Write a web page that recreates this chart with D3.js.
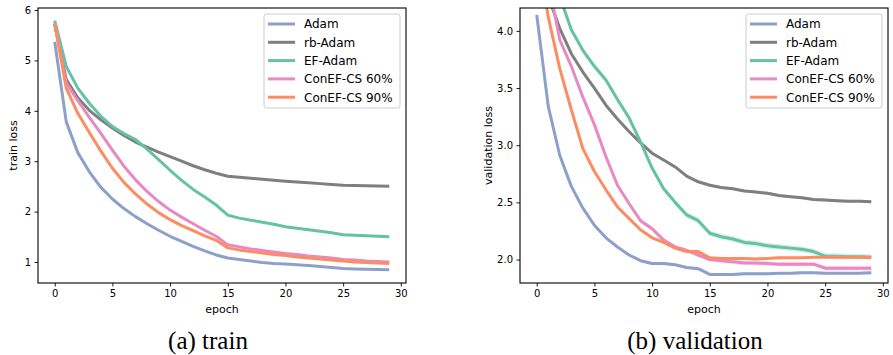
<!DOCTYPE html>
<html>
<head>
<meta charset="utf-8">
<script src="https://cdn.jsdelivr.net/npm/d3@7"></script>
<style>
  body { margin: 0; background: #fff; }
  svg text { font-family: "DejaVu Sans", sans-serif; fill: #000; }
  .caption { font-family: "Liberation Serif", "Times New Roman", serif; font-size: 25px; }
</style>
</head>
<body>
<div id="graphs"></div>
<script>
var epochs = [0, 1, 2, 3, 4, 5, 6, 7, 8, 9, 10, 11, 12, 13, 14, 15, 16, 17, 18, 19, 20, 21, 22, 23, 24, 25, 26, 27, 28, 29];
var seriesNames = ["Adam", "rb-Adam", "EF-Adam", "ConEF-CS 60%", "ConEF-CS 90%"];
var seriesColors = ["#8da0cb", "#7f7f7f", "#66c2a5", "#e78ac3", "#fc8d62"];

// train loss
var trainAdam   = [5.37, 3.78, 3.17, 2.79, 2.48, 2.25, 2.06, 1.90, 1.76, 1.63, 1.51, 1.41, 1.31, 1.22, 1.14, 1.08, 1.05, 1.02, 0.99, 0.97, 0.96, 0.945, 0.93, 0.91, 0.89, 0.87, 0.86, 0.855, 0.85, 0.845];
var trainRb     = [5.72, 4.62, 4.26, 4.01, 3.82, 3.66, 3.51, 3.38, 3.28, 3.18, 3.09, 3.00, 2.91, 2.83, 2.76, 2.70, 2.68, 2.66, 2.64, 2.62, 2.60, 2.585, 2.57, 2.555, 2.54, 2.525, 2.52, 2.515, 2.51, 2.505];
var trainEF     = [5.79, 4.88, 4.45, 4.15, 3.89, 3.69, 3.55, 3.43, 3.24, 3.03, 2.82, 2.62, 2.44, 2.29, 2.13, 1.93, 1.87, 1.83, 1.79, 1.75, 1.70, 1.67, 1.64, 1.61, 1.58, 1.54, 1.53, 1.52, 1.51, 1.50];
var trainCS60   = [5.72, 4.55, 4.20, 3.87, 3.55, 3.22, 2.90, 2.63, 2.40, 2.20, 2.03, 1.89, 1.76, 1.63, 1.51, 1.34, 1.30, 1.26, 1.23, 1.20, 1.17, 1.15, 1.12, 1.10, 1.08, 1.05, 1.04, 1.02, 1.01, 1.00];
var trainCS90   = [5.74, 4.45, 3.95, 3.57, 3.20, 2.86, 2.58, 2.35, 2.15, 1.98, 1.84, 1.72, 1.62, 1.52, 1.43, 1.28, 1.24, 1.21, 1.18, 1.15, 1.13, 1.10, 1.08, 1.06, 1.04, 1.02, 1.00, 0.99, 0.98, 0.97];

// validation loss
var valAdam     = [4.14, 3.34, 2.91, 2.64, 2.45, 2.30, 2.19, 2.11, 2.04, 1.99, 1.965, 1.965, 1.955, 1.93, 1.92, 1.87, 1.87, 1.87, 1.875, 1.875, 1.875, 1.88, 1.88, 1.885, 1.885, 1.88, 1.88, 1.88, 1.88, 1.885];
var valRb       = [5.60, 4.30, 4.02, 3.80, 3.64, 3.50, 3.35, 3.23, 3.12, 3.02, 2.93, 2.87, 2.81, 2.73, 2.68, 2.65, 2.63, 2.62, 2.60, 2.59, 2.58, 2.56, 2.55, 2.54, 2.525, 2.52, 2.515, 2.51, 2.51, 2.505];
var valEF       = [5.70, 4.70, 4.30, 4.01, 3.83, 3.69, 3.57, 3.40, 3.24, 3.03, 2.80, 2.62, 2.50, 2.39, 2.34, 2.23, 2.20, 2.18, 2.15, 2.14, 2.12, 2.11, 2.10, 2.09, 2.07, 2.03, 2.03, 2.025, 2.025, 2.02];
var valCS60     = [5.70, 4.43, 3.92, 3.69, 3.42, 3.18, 2.90, 2.65, 2.49, 2.34, 2.27, 2.17, 2.11, 2.08, 2.04, 2.00, 1.99, 1.98, 1.97, 1.97, 1.965, 1.96, 1.96, 1.96, 1.96, 1.925, 1.925, 1.925, 1.925, 1.925];
var valCS90     = [4.75, 4.12, 3.67, 3.31, 2.97, 2.77, 2.61, 2.46, 2.36, 2.26, 2.19, 2.15, 2.10, 2.07, 2.07, 2.015, 2.01, 2.01, 2.01, 2.005, 2.01, 2.015, 2.015, 2.015, 2.02, 2.02, 2.02, 2.02, 2.02, 2.02];
// half width of the shaded run-to-run band, validation only
var valBand     = [0.012, 0.012, 0.025, 0.02, 0.012];

var trainTicks = [1, 2, 3, 4, 5, 6];
var valTicks   = [2.0, 2.5, 3.0, 3.5, 4.0];
var epochTicks = [0, 5, 10, 15, 20, 25, 30];

var W = 893, H = 355;

var svg = d3.select("#graphs").append("svg")
    .attr("width", W)
    .attr("height", H);

function drawPanel(opt) {
    var left = opt.left, top = 8, width = 368, height = 275;
    var g = svg.append("g")
        .attr("transform", "translate(" + left + "," + top + ")");

    var xScale = d3.scaleLinear().domain([-1.45, 30.45]).range([0, width]);
    var yScale = d3.scaleLinear().domain(opt.yDomain).range([height, 0]);

    g.append("clipPath").attr("id", opt.id + "-clip")
      .append("rect").attr("width", width).attr("height", height);

    var plot = g.append("g").attr("clip-path", "url(#" + opt.id + "-clip)");

    if (opt.bands) {
        opt.series.forEach(function(vals, i) {
            var area = d3.area()
                .x(function(d, j) { return xScale(epochs[j]); })
                .y0(function(d) { return yScale(d - opt.bands[i]); })
                .y1(function(d) { return yScale(d + opt.bands[i]); });
            plot.append("path")
                .datum(vals)
                .attr("d", area)
                .attr("fill", seriesColors[i])
                .attr("opacity", 0.25);
        });
    }

    var valueline = d3.line()
        .x(function(d, j) { return xScale(epochs[j]); })
        .y(function(d) { return yScale(d); });

    opt.series.forEach(function(vals, i) {
        plot.append("path")
            .datum(vals)
            .attr("d", valueline)
            .attr("fill", "none")
            .attr("stroke", seriesColors[i])
            .attr("stroke-width", 3)
            .attr("stroke-linejoin", "round");
    });

    var xAxis = d3.axisBottom(xScale).tickValues(epochTicks).tickSize(3.5).tickPadding(3.5);
    var yAxis = d3.axisLeft(yScale).tickValues(opt.yTicks).tickSize(3.5).tickPadding(3.5)
        .tickFormat(opt.yFormat);

    var xg = g.append("g")
        .attr("transform", "translate(0," + height + ")")
        .call(xAxis);
    var yg = g.append("g").call(yAxis);
    [xg, yg].forEach(function(a) {
        a.select(".domain").remove();
        a.selectAll("line").attr("stroke", "#000").attr("stroke-width", 0.9);
        a.selectAll("text").style("font-size", "10px").style("font-family", "DejaVu Sans");
    });

    g.append("rect")
        .attr("width", width)
        .attr("height", height)
        .attr("fill", "none")
        .attr("stroke", "#000")
        .attr("stroke-width", 1.1);

    g.append("text")
        .attr("x", width / 2)
        .attr("y", height + 30)
        .attr("text-anchor", "middle")
        .style("font-size", "11px")
        .text("epoch");

    g.append("text")
        .attr("transform", "rotate(-90)")
        .attr("x", -height / 2)
        .attr("y", opt.yLabelX)
        .attr("text-anchor", "middle")
        .style("font-size", "11px")
        .text(opt.yLabel);

    // legend
    var lg = g.append("g").attr("transform", "translate(" + (width - 142) + ",6)");
    lg.append("rect")
        .attr("width", 136)
        .attr("height", 94)
        .attr("rx", 2.5)
        .attr("fill", "#fff")
        .attr("fill-opacity", 0.8)
        .attr("stroke", "#cccccc")
        .attr("stroke-width", 1);
    seriesNames.forEach(function(name, i) {
        var yy = 10 + i * 18.3;
        lg.append("line")
            .attr("x1", 4).attr("x2", 31)
            .attr("y1", yy).attr("y2", yy)
            .attr("stroke", seriesColors[i])
            .attr("stroke-width", 3);
        lg.append("text")
            .attr("x", 40)
            .attr("y", yy)
            .attr("dy", "0.36em")
            .style("font-size", "12px")
            .text(name);
    });

    svg.append("text")
        .attr("class", "caption")
        .attr("x", opt.captionX)
        .attr("y", 349)
        .attr("text-anchor", "middle")
        .text(opt.caption);
}

drawPanel({
    id: "train",
    left: 38,
    yDomain: [0.583, 6.04],
    yTicks: trainTicks,
    yFormat: d3.format("d"),
    yLabel: "train loss",
    yLabelX: -21,
    series: [trainAdam, trainRb, trainEF, trainCS60, trainCS90],
    caption: "(a) train",
    captionX: 208
});

drawPanel({
    id: "val",
    left: 520,
    yDomain: [1.795, 4.2],
    yTicks: valTicks,
    yFormat: d3.format(".1f"),
    yLabel: "validation loss",
    yLabelX: -28,
    series: [valAdam, valRb, valEF, valCS60, valCS90],
    bands: valBand,
    caption: "(b) validation",
    captionX: 695
});
</script>
</body>
</html>
